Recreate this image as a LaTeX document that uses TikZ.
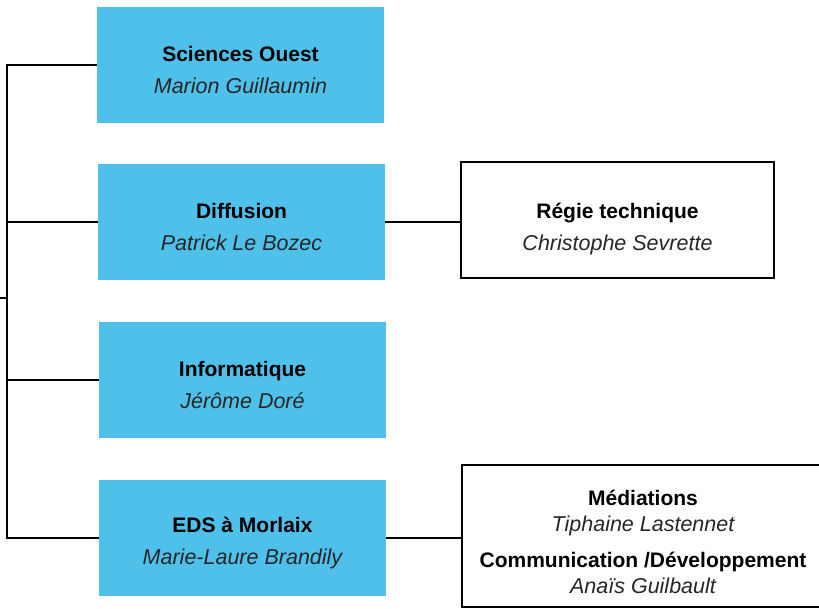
\documentclass[tikz,border=0pt]{standalone}
\usepackage{fontspec}
\setmainfont{Liberation Sans}
\definecolor{boxblue}{HTML}{4EC0EA}
\tikzset{
  unit/.style={minimum width=287pt, minimum height=116pt, inner sep=0pt, align=center, fill=boxblue, font=\fontsize{21}{32}\selectfont},
  subunit/.style={draw=black, line width=1.6pt, inner sep=0pt, align=center, fill=white, font=\fontsize{21}{32}\selectfont},
  link/.style={draw=black, line width=1.6pt},
}
\newcommand{\ttl}[1]{{\bfseries #1}}
\newcommand{\who}[1]{{\fontsize{21.5}{32}\selectfont\itshape\color{black!85} #1}}
\newcommand{\lift}[1]{\rule{0pt}{#1}}
\begin{document}
\begin{tikzpicture}[x=1pt,y=-1pt]
\useasboundingbox (0,0) rectangle (819,609);
\clip (0,0) rectangle (819,609);
\node[unit] (so) at (240.5,65) {\lift{26pt}\ttl{Sciences Ouest}\\\who{Marion Guillaumin}};
\node[unit] (dif) at (241.5,222) {\lift{26pt}\ttl{Diffusion}\\\who{Patrick Le Bozec}};
\node[unit] (inf) at (242.5,380) {\lift{26pt}\ttl{Informatique}\\\who{Jérôme Doré}};
\node[unit] (eds) at (242.5,538) {\lift{26pt}\ttl{EDS à Morlaix}\\\who{Marie-Laure Brandily}};
\node[subunit, minimum width=313pt, minimum height=116pt] (reg) at (617.5,220) {\lift{33pt}\ttl{Régie technique}\\\who{Christophe Sevrette}};
\node[subunit, minimum width=362pt, minimum height=142pt, font=\fontsize{21}{26}\selectfont] (med) at (643,536) {\lift{28pt}\ttl{Médiations}\\\who{Tiphaine Lastennet}\\[10pt]\ttl{Communication /Développement}\\\who{Anaïs Guilbault}};
\coordinate (root) at (0,298);
\coordinate (spine) at (7,298);
\draw[link] (root) -- (spine);
\draw[link] (so.west) -- (so.west -| spine) -- (eds.west -| spine) -- (eds.west);
\draw[link] (dif.west) -- (dif.west -| spine);
\draw[link] (inf.west) -- (inf.west -| spine);
\draw[link] (dif.east) -- (dif.east -| reg.west);
\draw[link] (eds.east) -- (eds.east -| med.west);
\end{tikzpicture}
\end{document}
